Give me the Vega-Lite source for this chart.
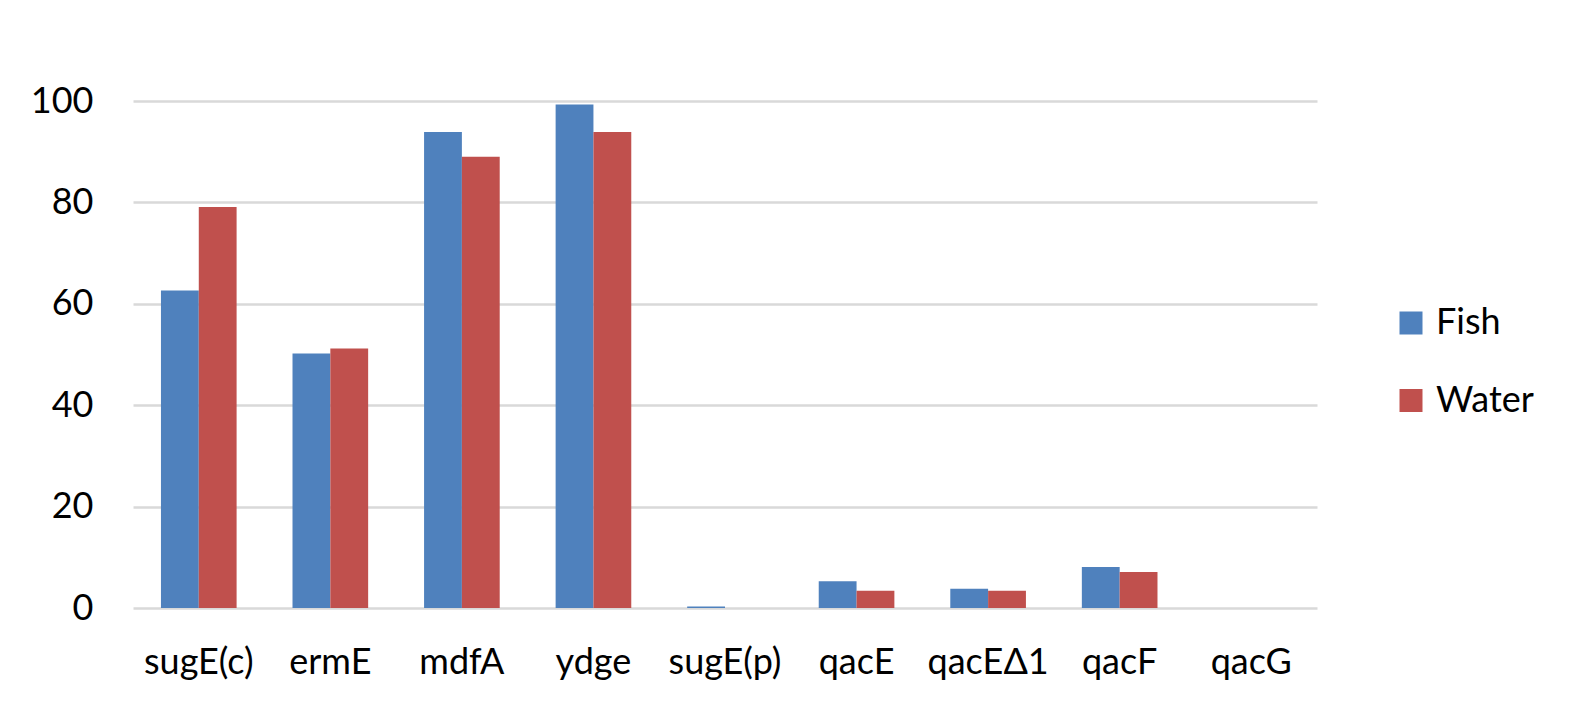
{
  "$schema": "https://vega.github.io/schema/vega-lite/v6.json",
  "width": 1184,
  "height": 507,
  "padding": {"left": 30, "top": 83, "right": 0, "bottom": 35},
  "background": "white",
  "data": {
    "values": [
      {"gene": "sugE(c)", "source": "Fish", "value": 62.6},
      {"gene": "sugE(c)", "source": "Water", "value": 79.1},
      {"gene": "ermE", "source": "Fish", "value": 50.2},
      {"gene": "ermE", "source": "Water", "value": 51.2},
      {"gene": "mdfA", "source": "Fish", "value": 93.9},
      {"gene": "mdfA", "source": "Water", "value": 89.0},
      {"gene": "ydge", "source": "Fish", "value": 99.3},
      {"gene": "ydge", "source": "Water", "value": 93.9},
      {"gene": "sugE(p)", "source": "Fish", "value": 0.3},
      {"gene": "sugE(p)", "source": "Water", "value": 0},
      {"gene": "qacE", "source": "Fish", "value": 5.3},
      {"gene": "qacE", "source": "Water", "value": 3.4},
      {"gene": "qacEΔ1", "source": "Fish", "value": 3.8},
      {"gene": "qacEΔ1", "source": "Water", "value": 3.4},
      {"gene": "qacF", "source": "Fish", "value": 8.1},
      {"gene": "qacF", "source": "Water", "value": 7.1},
      {"gene": "qacG", "source": "Fish", "value": 0},
      {"gene": "qacG", "source": "Water", "value": 0}
    ]
  },
  "mark": "bar",
  "encoding": {
    "x": {
      "field": "gene",
      "type": "nominal",
      "sort": null,
      "scale": {"paddingInner": 0.425, "paddingOuter": 0.2125},
      "axis": {"title": null, "labelAngle": 0, "labelPadding": 37, "ticks": false, "domain": false, "grid": false}
    },
    "xOffset": {"field": "source", "type": "nominal", "sort": ["Fish", "Water"]},
    "y": {
      "field": "value",
      "type": "quantitative",
      "scale": {"domain": [0, 100], "nice": false},
      "axis": {"title": null, "values": [0, 20, 40, 60, 80, 100], "labelPadding": 40, "ticks": false, "domain": false, "gridColor": "#D9D9D9", "gridWidth": 2.5}
    },
    "color": {
      "field": "source",
      "type": "nominal",
      "scale": {"domain": ["Fish", "Water"], "range": ["#4F81BD", "#C0504D"]},
      "legend": {
        "title": null,
        "orient": "none",
        "legendX": 1260,
        "legendY": 204,
        "symbolType": "square",
        "symbolSize": 529,
        "symbolStrokeWidth": 0,
        "labelFontSize": 36,
        "labelOffset": 7,
        "rowPadding": 41.5
      }
    }
  },
  "config": {
    "font": "Lato",
    "view": {"stroke": null},
    "axis": {"labelFont": "Lato", "labelFontSize": 36, "labelColor": "black"},
    "legend": {"labelFont": "Lato", "labelColor": "black"}
  }
}
